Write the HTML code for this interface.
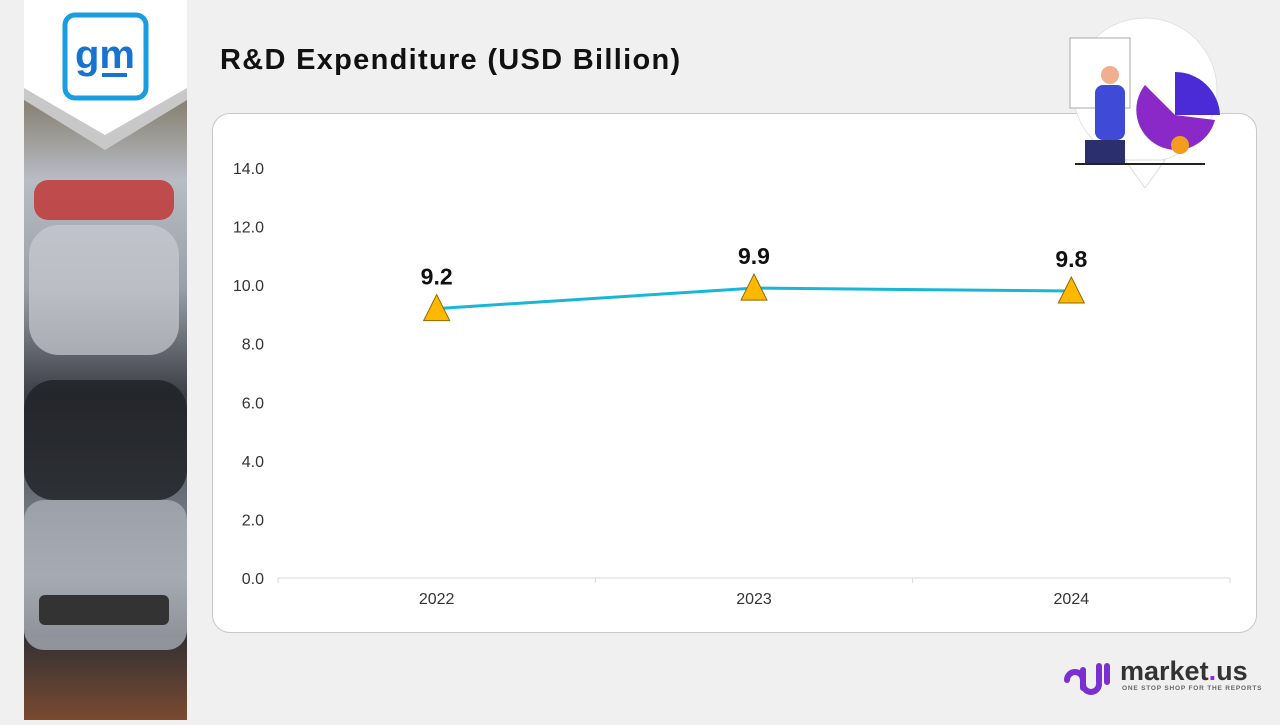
<!DOCTYPE html>
<html><head><meta charset="utf-8">
<style>
body{margin:0;width:1280px;height:720px;background:#f0f0f0;font-family:"Liberation Sans",sans-serif;position:relative;overflow:hidden}
#strip{position:absolute;left:24px;top:0;width:163px;height:720px;background:linear-gradient(180deg,#7a7466 0%,#8a8578 15%,#b8bcc4 25%,#9a9ea6 40%,#3a3d44 55%,#6d727c 70%,#9ca0a8 80%,#2f3034 88%,#7a4a30 100%)}
#title{position:absolute;left:220px;top:44px;font-size:29px;letter-spacing:1.3px;font-weight:bold;color:#111;white-space:nowrap}
#card{position:absolute;left:212px;top:113px;width:1043px;height:518px;background:#fff;border:1px solid #c8c8c8;border-radius:18px}
</style></head><body>
<div id="strip">
<svg width="163" height="720">
<rect x="10" y="180" width="140" height="40" rx="14" fill="#c23030" opacity=".8"/>
<rect x="5" y="225" width="150" height="130" rx="30" fill="#c9ccd2" opacity=".7"/>
<rect x="0" y="380" width="163" height="120" rx="30" fill="#1e2024" opacity=".8"/>
<rect x="0" y="500" width="163" height="150" rx="20" fill="#a9adb5" opacity=".8"/>
<rect x="15" y="595" width="130" height="30" rx="6" fill="#333"/>
</svg></div>
<svg style="position:absolute;left:24px;top:0" width="163" height="150">
<polygon points="0,0 163,0 163,100 81,150 0,100" fill="#c8c8c8"/>
<polygon points="0,0 163,0 163,88 81,135 0,88" fill="#fff"/>
<rect x="41" y="15" width="81" height="83" rx="10" fill="none" stroke="#1a9de0" stroke-width="5"/>
<text x="81" y="68" text-anchor="middle" font-size="40" font-weight="bold" fill="#1673d1" font-family="Liberation Sans">gm</text>
<rect x="78" y="73" width="25" height="4" fill="#1673d1"/>
</svg>
<div id="title">R&amp;D Expenditure (USD Billion)</div>
<div id="card"></div>
<svg style="position:absolute;left:1065px;top:10px" width="160" height="180">
<circle cx="80" cy="80" r="72" fill="#fff" stroke="#e2e2e2"/>
<polygon points="60,150 100,150 80,178" fill="#fff" stroke="#ddd"/>
<rect x="5" y="28" width="60" height="70" fill="#fff" stroke="#aaa"/>
<path d="M110,62 A45,45 0 0 1 155,105 L110,105Z" fill="#4a2bd6"/>
<path d="M80,75 A40,40 0 1 0 150,110 L110,105Z" fill="#8a28c8"/>
<rect x="30" y="75" width="30" height="55" rx="8" fill="#3f4bd6"/>
<circle cx="45" cy="65" r="9" fill="#f0b090"/>
<rect x="20" y="130" width="40" height="25" fill="#2b2f6b"/>
<circle cx="115" cy="135" r="9" fill="#f39c20"/>
<line x1="10" y1="154" x2="140" y2="154" stroke="#222" stroke-width="2"/>
</svg>
<svg id="chart" style="position:absolute;left:0;top:0" width="1280" height="720"></svg>
<div style="position:absolute;left:1062px;top:658px">
<svg width="50" height="38"><path d="M5,22 a8,8 0 0 1 16,0 v8 M21,12 v14 a8,8 0 0 0 16,0 M37,8 v16 M45,8 v16" fill="none" stroke="#7a2fd0" stroke-width="6" stroke-linecap="round"/></svg>
<span style="position:absolute;left:58px;top:-2px;font-size:27px;font-weight:bold;color:#333">market<span style="color:#8a2be2">.</span>us</span>
<span style="position:absolute;left:60px;top:27px;font-size:6.5px;font-weight:bold;color:#666;white-space:nowrap;letter-spacing:.8px">ONE STOP SHOP FOR THE REPORTS</span>
</div>
<script>
const years=["2022","2023","2024"];
const values=[9.2,9.9,9.8];
const yTicks=[0,2,4,6,8,10,12,14];
const ns="http://www.w3.org/2000/svg",svg=document.getElementById('chart');
const x0=278,x1=1230,band=(x1-x0)/years.length;
const X=i=>x0+band*(i+0.5), Y=v=>578-v*(410/14);
function mk(t,a,txt){const e=document.createElementNS(ns,t);for(const k in a)e.setAttribute(k,a[k]);if(txt!=null)e.textContent=txt;svg.appendChild(e);return e;}
yTicks.forEach(t=>{const e=mk('text',{x:264,y:Y(t)+6,'text-anchor':'end','font-size':16,fill:'#333'},t.toFixed(1));

});
const ax=mk('line',{x1:x0,y1:578,x2:x1,y2:578,stroke:'#d9d9d9'});


for(let i=0;i<=years.length;i++)mk('line',{x1:x0+band*i,y1:578,x2:x0+band*i,y2:583,stroke:'#d9d9d9'});
years.forEach((y,i)=>{const e=mk('text',{x:X(i),y:604,'text-anchor':'middle','font-size':16,fill:'#333'},y);

});
const ln=mk('polyline',{points:values.map((v,i)=>X(i)+','+Y(v)).join(' '),fill:'none',stroke:'#1ab6d6','stroke-width':3});


values.forEach((v,i)=>{const cx=X(i),cy=Y(v);
const m=mk('polygon',{points:`${cx},${cy-14} ${cx+13},${cy+12} ${cx-13},${cy+12}`,fill:'#ffb800',stroke:'#8a6a00','stroke-width':1});


const l=mk('text',{x:cx,y:cy-24,'text-anchor':'middle','font-size':23,'font-weight':'bold',fill:'#111'},v.toFixed(1));

});
</script>
</body></html>
